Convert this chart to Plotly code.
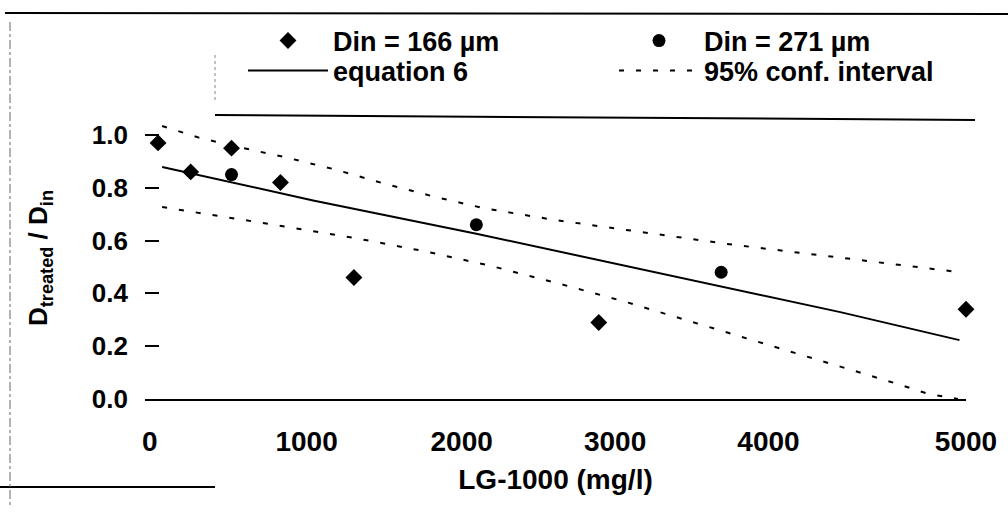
import plotly.graph_objects as go

# ---- data ----
d166_x = [50, 250, 500, 800, 1250, 2750, 5000]
d166_y = [0.97, 0.86, 0.95, 0.82, 0.46, 0.29, 0.34]

d271_x = [500, 2000, 3500]
d271_y = [0.85, 0.66, 0.48]

eq6_x = [75, 1000, 2000, 3000, 4230, 4960]
eq6_y = [0.879, 0.752, 0.626, 0.492, 0.329, 0.223]

ci_up_x = [75, 300, 500, 820, 1130, 1440, 1750, 2050, 2480, 2910, 3550, 4300, 4950]
ci_up_y = [1.034, 0.99, 0.96, 0.917, 0.87, 0.815, 0.765, 0.722, 0.678, 0.642, 0.586, 0.53, 0.481]

ci_lo_x = [75, 410, 840, 1270, 1680, 2090, 2500, 2930, 3340, 3540, 4260, 4570, 4770, 4950]
ci_lo_y = [0.727, 0.695, 0.652, 0.608, 0.560, 0.504, 0.438, 0.365, 0.289, 0.253, 0.117, 0.059, 0.019, 0.0]

# x tick labels sit where the printed figure places them
x_tick_labels = ["0", "1000", "2000", "3000", "4000", "5000"]
x_tick_pos = [0, 960, 1910, 2850, 3790, 5000]

y_tick_vals = [0.0, 0.2, 0.4, 0.6, 0.8, 1.0]
y_tick_labels = ["0.0", "0.2", "0.4", "0.6", "0.8", "1.0"]

FONT = "Liberation Sans, Arial, sans-serif"

fig = go.Figure()
fig.add_trace(go.Scatter(x=d166_x, y=d166_y, mode="markers", name="Din = 166 µm",
                         marker=dict(symbol="diamond", size=13, color="black"),
                         legend="legend", cliponaxis=False))
fig.add_trace(go.Scatter(x=d271_x, y=d271_y, mode="markers", name="Din = 271 µm",
                         marker=dict(symbol="circle", size=13, color="black"),
                         legend="legend", cliponaxis=False))
fig.add_trace(go.Scatter(x=eq6_x, y=eq6_y, mode="lines", name="equation 6",
                         line=dict(color="black", width=2), legend="legend2"))
fig.add_trace(go.Scatter(x=ci_up_x, y=ci_up_y, mode="lines", name="95% conf. interval",
                         line=dict(color="black", width=2, dash="5px,12px"),
                         legend="legend2", legendgroup="ci"))
fig.add_trace(go.Scatter(x=ci_lo_x, y=ci_lo_y, mode="lines", name="95% conf. interval",
                         line=dict(color="black", width=2, dash="5px,12px"),
                         legend="legend2", legendgroup="ci", showlegend=False))

L, R, T, B = 145, 42, 117, 115
W, H = 1008, 514
pw, ph = W - L - R, H - T - B

def px(xp):
    return (xp - L) / pw

def py(yp):
    return (H - B - yp) / ph

legend_common = dict(orientation="h", xanchor="left", yanchor="middle",
                      entrywidth=276, itemwidth=80, bgcolor="rgba(0,0,0,0)",
                      font=dict(family=FONT, size=27, color="black", weight="bold"))

fig.update_layout(
    width=W, height=H,
    margin=dict(l=L, r=R, t=T, b=B, autoexpand=False),
    paper_bgcolor="white", plot_bgcolor="white",
    font=dict(family=FONT, color="black", weight="bold"),
    legend=dict(x=px(243), y=py(41), **legend_common),
    legend2=dict(x=px(243), y=py(71), **legend_common),
    xaxis=dict(range=[-30, 5000], showline=True, linecolor="black", linewidth=2,
               ticks="", showgrid=False, zeroline=False,
               tickvals=x_tick_pos, ticktext=x_tick_labels,
               tickfont=dict(family=FONT, size=28, weight="bold"),
               ticklabelstandoff=16,
               title=dict(text="LG-1000 (mg/l)", standoff=14,
                          font=dict(family=FONT, size=28, weight="bold"))),
    yaxis=dict(range=[0, 1.068], showline=False, ticks="inside", ticklen=14,
               tickwidth=2, tickcolor="black", showgrid=False, zeroline=False,
               tickvals=y_tick_vals, ticktext=y_tick_labels,
               tickfont=dict(family=FONT, size=26, weight="bold"),
               ticklabelstandoff=16,
               title=dict(text="D<sub>treated</sub> / D<sub>in</sub>", standoff=36,
                          font=dict(family=FONT, size=26, weight="bold"))),
    shapes=[
        # frame lines from the scanned page
        dict(type="line", xref="paper", yref="paper", x0=px(5), x1=px(1008), y0=py(13), y1=py(14),
             line=dict(color="black", width=2)),
        dict(type="line", xref="paper", yref="paper", x0=px(215), x1=px(975), y0=py(115), y1=py(120),
             line=dict(color="black", width=2)),
        dict(type="line", xref="paper", yref="paper", x0=px(0), x1=px(215), y0=py(487), y1=py(487),
             line=dict(color="black", width=2)),
        dict(type="line", xref="paper", yref="paper", x0=px(10), x1=px(10), y0=py(22), y1=py(505),
             line=dict(color="#666", width=1, dash="dashdot")),
        dict(type="line", xref="paper", yref="paper", x0=px(215), x1=px(215), y0=py(55), y1=py(100),
             line=dict(color="#888", width=1, dash="dot")),
    ],
)

fig.write_html("out.html")
